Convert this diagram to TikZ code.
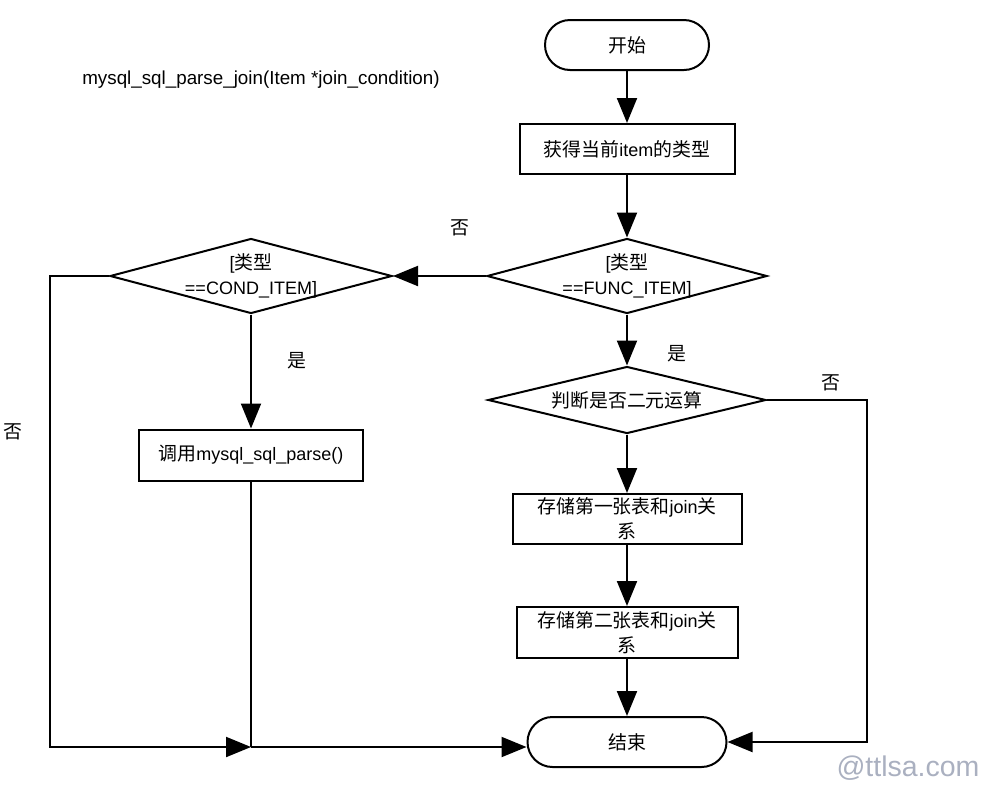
\documentclass[tikz,border=0pt]{standalone}
\usepackage{fontspec}
\setmainfont{Liberation Sans}
\newfontfamily\cjk[Scale=1.05]{Noto Sans CJK SC}
\usetikzlibrary{arrows.meta,shapes.geometric}
\definecolor{wmgray}{RGB}{170,176,192}
\begin{document}
\begin{tikzpicture}[x=1pt,y=-1pt,
  every node/.style={font=\fontsize{18}{25}\selectfont, inner sep=0pt},
  box/.style={draw, line width=2pt, rectangle, align=center},
  term/.style={draw, line width=2pt, rectangle, rounded corners=25pt, minimum height=50pt},
  dia/.style={draw, line width=2pt, diamond},
  arr/.style={line width=2pt, -{Triangle[length=25pt,width=20pt]}},
  ln/.style={line width=2pt}
]
\useasboundingbox (0,0) rectangle (988,788);

\node[term, minimum width=164pt] (start) at (627,45) {{\cjk 开始}};
\node[box, minimum width=215pt, minimum height=50pt] (get) at (627,149) {{\cjk 获得当前}item{\cjk 的类型}};
\node[dia, minimum width=280pt, minimum height=75pt,
  label={[align=center]center:{[{\cjk 类型}\\==FUNC\_ITEM]}}] (d1) at (627,276) {};
\node[dia, minimum width=282pt, minimum height=75pt,
  label={[align=center]center:{[{\cjk 类型}\\==COND\_ITEM]}}] (d2) at (251,276) {};
\node[box, minimum width=224pt, minimum height=51pt] (call) at (251,455) {{\cjk 调用}mysql\_sql\_parse()};
\node[dia, minimum width=278pt, minimum height=67pt,
  label={center:{\cjk 判断是否二元运算}}] (d3) at (627,400) {};
\node[box, minimum width=229pt, minimum height=50pt] (s1) at (627,519) {{\cjk 存储第一张表和}join{\cjk 关}\\{\cjk 系}};
\node[box, minimum width=221pt, minimum height=51pt] (s2) at (627,632.5) {{\cjk 存储第二张表和}join{\cjk 关}\\{\cjk 系}};
\node[term, minimum width=199pt] (end) at (627,742) {{\cjk 结束}};

\node (no1) at (460,228) {{\cjk 否}};
\node (yes1) at (297,361) {{\cjk 是}};
\node (no2) at (13,432) {{\cjk 否}};
\node (yes2) at (677,354) {{\cjk 是}};
\node (no3) at (831,383) {{\cjk 否}};
\node[font=\fontsize{18.8}{22}\selectfont] (title) at (261,80) {mysql\_sql\_parse\_join(Item *join\_condition)};
\node[text=wmgray, font=\fontsize{28.5}{30}\selectfont] (wm) at (908,768) {@ttlsa.com};

\coordinate (lc) at (50,747);
\coordinate (jn) at (251,747);
\coordinate (rc) at (867,742);

\draw[arr] (start) -- (get);
\draw[arr] (get) -- (d1);
\draw[arr] (d1.west) -- (d2.east);
\draw[arr] (d2.south) -- (call.north);
\draw[arr] (d2.west) -| (lc) -- (jn);
\draw[ln] (call.south) -- (jn);
\draw[arr] (jn) -- (jn -| end.west);
\draw[arr] (d1.south) -- (d3.north);
\draw[arr] (d3.south) -- (s1.north);
\draw[arr] (s1) -- (s2);
\draw[arr] (s2) -- (end);
\draw[arr] (d3.east) -| (rc) -- (end.east);
\end{tikzpicture}
\end{document}
